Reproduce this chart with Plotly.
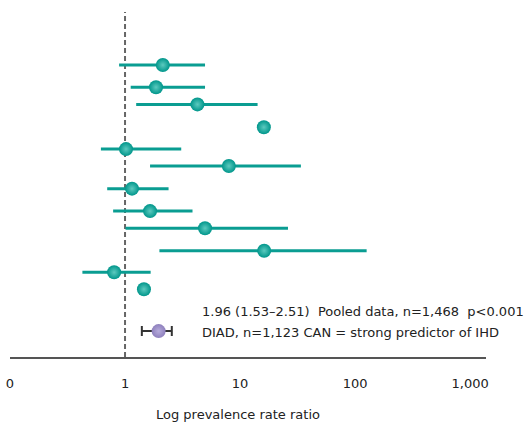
import plotly.graph_objects as go

# Study estimates (prevalence rate ratio with 95% CI)
study_row = [1.0, 2.09, 2.93, 4.05, 5.12, 5.95, 7.06, 8.16, 9.0, 10.1, 11.16, 11.99]
study_est = [2.13, 1.86, 4.26, 16.1, 1.02, 7.99, 1.15, 1.65, 4.96, 16.2, 0.804, 1.46]
study_lo = [0.888, 1.12, 1.25, None, 0.617, 1.65, 0.70, 0.788, 1.01, 1.99, 0.426, None]
study_hi = [4.96, 4.96, 14.2, None, 3.08, 33.8, 2.39, 3.86, 26.1, 126.0, 1.67, None]

pooled_row = [14.04]
pooled_est = [1.96]
pooled_lo = [1.40]
pooled_hi = [2.55]

tick_vals = [0.1, 1, 10, 100, 1000]
tick_text = ["0", "1", "10", "100", "1,000"]

NB = "\u00a0"
text_line1 = "1.96 (1.53\u20132.51)" + NB * 2 + "Pooled data, n=1,468" + NB + " " + "p<0.001"
text_line2 = "DIAD, n=1,123 CAN = strong predictor of IHD"
x_title = "Log prevalence rate ratio"

FONT = "DejaVu Sans"
TEAL = "#0a9d92"

err_plus = [(h - e) if h is not None else 0 for e, h in zip(study_est, study_hi)]
err_minus = [(e - l) if l is not None else 0 for e, l in zip(study_est, study_lo)]

fig = go.Figure()
fig.add_trace(go.Scatter(
    x=study_est, y=study_row, mode="markers",
    marker=dict(size=14, color="#00968b", line=dict(width=0),
                gradient=dict(type="radial", color="#5ccabf")),
    error_x=dict(type="data", array=err_plus, arrayminus=err_minus,
                 symmetric=False, thickness=3, width=0, color=TEAL),
    hoverinfo="skip", showlegend=False,
))
fig.add_trace(go.Scatter(
    x=pooled_est, y=pooled_row, mode="markers",
    marker=dict(size=14, color="#8e80bd", line=dict(width=0),
                gradient=dict(type="radial", color="#b7acdc")),
    error_x=dict(type="data",
                 array=[h - e for e, h in zip(pooled_est, pooled_hi)],
                 arrayminus=[e - l for e, l in zip(pooled_est, pooled_lo)],
                 symmetric=False, thickness=2, width=5, color="#333333"),
    hoverinfo="skip", showlegend=False,
))

fig.add_shape(type="line", xref="x", yref="paper", x0=1, x1=1, y0=0, y1=1,
              line=dict(color="#666666", width=2, dash="5px,3px"), layer="below")

# plot area: x 6..486, y 12..357
fig.add_annotation(xref="paper", yref="paper", x=(197.5 - 6) / 480, y=0.1313, xanchor="left",
                   yanchor="middle", text=text_line1, showarrow=False,
                   font=dict(family=FONT, size=13, color="#222222"))
fig.add_annotation(xref="paper", yref="paper", x=(197.5 - 6) / 480, y=0.0716, xanchor="left",
                   yanchor="middle", text=text_line2, showarrow=False,
                   font=dict(family=FONT, size=13, color="#222222"))
fig.add_annotation(xref="paper", yref="paper", x=(236 - 6) / 480, y=(357 - 414) / 345,
                   xanchor="center", yanchor="middle", text=x_title, showarrow=False,
                   font=dict(family=FONT, size=13, color="#222222"))

fig.update_layout(
    width=529, height=423,
    margin=dict(l=6, r=43, t=12, b=66, pad=0),
    paper_bgcolor="white", plot_bgcolor="white",
    font=dict(family=FONT, size=13, color="#222222"),
    xaxis=dict(type="log", range=[-1.0, 3.138], tickvals=tick_vals, ticktext=tick_text,
               showgrid=False, zeroline=False, showline=True, linecolor="#555555",
               linewidth=1.5, ticks="", ticklabelstandoff=14,
               tickfont=dict(family=FONT, size=13, color="#222222")),
    yaxis=dict(range=[15.31, -1.598], visible=False, showgrid=False, zeroline=False),
)

fig.write_html("out.html", config={"displayModeBar": False},
               post_script="document.body.style.margin='0';")
